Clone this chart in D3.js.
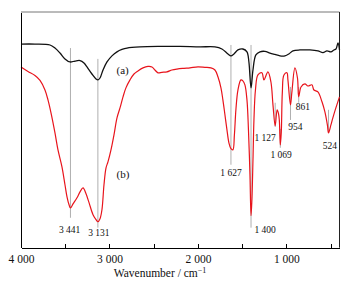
<!DOCTYPE html>
<head>
  <meta charset="utf-8">
  <script src="https://d3js.org/d3.v7.min.js"></script>
  <style>
    body { margin: 0; background: #fff; }
    .axis path, .axis line { stroke: #000; shape-rendering: crispEdges; }
    .axis text { font-family: "Liberation Serif", serif; font-size: 11.5px; fill: #111; }
    .peak { stroke: #9a9a9a; stroke-width: 0.8; }
    .plabel { font-family: "Liberation Serif", serif; font-size: 9.5px; fill: #111; text-anchor: middle; }
    .tag { font-family: "Liberation Serif", serif; font-size: 11px; fill: #111; }
  </style>
</head>
<body>
<div id="chart"></div>
<script>
// spectrum (a): wavenumber / transmittance (arb. %)
var waveA = [4000, 3842, 3672, 3616, 3559, 3503, 3446, 3390, 3333, 3288, 3254, 3198, 3152, 3130, 3107, 3073, 3028, 2972, 2915, 2859, 2802, 2655, 2429, 2203, 1977, 1808, 1729, 1661, 1627, 1593, 1548, 1492, 1446, 1424, 1400, 1378, 1345, 1299, 1243, 1186, 1130, 1073, 1017, 972, 926, 847, 734, 644, 587, 542, 497, 463, 440, 417, 400];
var transA = [86.4, 86.4, 86.0, 84.7, 82.6, 80.1, 78.8, 79.2, 79.4, 78.4, 76.7, 73.7, 71.6, 71.2, 72.0, 75.4, 78.8, 81.4, 83.1, 84.1, 84.7, 85.2, 85.4, 85.4, 85.2, 85.2, 84.3, 82.2, 81.4, 82.2, 83.9, 84.3, 83.1, 78.8, 67.8, 75.4, 81.8, 83.1, 83.3, 82.6, 82.0, 81.4, 81.4, 82.2, 83.5, 83.9, 83.9, 83.5, 82.8, 83.5, 83.1, 83.9, 84.3, 86.9, 83.9];

// spectrum (b)
var waveB = [4000, 3921, 3842, 3785, 3729, 3695, 3661, 3616, 3582, 3537, 3503, 3480, 3457, 3441, 3412, 3367, 3333, 3299, 3265, 3231, 3186, 3152, 3131, 3107, 3085, 3062, 3039, 3017, 2983, 2949, 2915, 2881, 2847, 2814, 2768, 2723, 2678, 2621, 2565, 2520, 2486, 2452, 2407, 2350, 2294, 2237, 2158, 2090, 2000, 1921, 1853, 1808, 1774, 1740, 1718, 1695, 1672, 1650, 1627, 1605, 1588, 1571, 1548, 1514, 1492, 1469, 1446, 1429, 1412, 1400, 1390, 1378, 1367, 1350, 1322, 1277, 1254, 1209, 1175, 1152, 1127, 1105, 1090, 1080, 1069, 1058, 1046, 1028, 994, 983, 954, 938, 904, 875, 861, 835, 791, 757, 712, 689, 644, 598, 565, 537, 524, 497, 475, 441, 400];
var transB = [76.7, 74.8, 73.1, 71.0, 66.9, 62.7, 57.2, 48.7, 41.5, 34.3, 26.7, 21.6, 18.2, 16.9, 18.6, 21.2, 23.7, 25.4, 22.9, 19.1, 14.0, 11.9, 11.0, 12.3, 16.1, 26.7, 33.9, 36.4, 41.5, 47.9, 55.1, 59.3, 64.0, 67.8, 71.2, 73.7, 75.0, 76.3, 76.9, 76.7, 75.4, 74.2, 74.4, 74.6, 75.4, 75.8, 76.1, 76.3, 76.7, 76.5, 76.3, 75.4, 72.5, 67.8, 62.7, 56.4, 50.0, 44.5, 42.0, 41.5, 47.9, 58.5, 66.9, 71.2, 70.8, 69.1, 62.7, 50.0, 30.9, 13.6, 20.3, 37.3, 54.2, 66.9, 73.3, 74.2, 71.2, 74.6, 70.3, 60.6, 51.7, 58.5, 57.0, 54.0, 43.6, 49.0, 66.0, 73.3, 74.2, 71.2, 60.6, 66.1, 76.3, 72.0, 64.0, 68.2, 69.5, 68.6, 69.1, 66.9, 66.1, 61.9, 57.6, 52.1, 48.7, 52.1, 55.1, 59.3, 64.0];

// peak annotations
var peakWaves = [3441, 3131, 1627, 1400, 1127, 1069, 954, 861, 524];
var peakLabels = ["3 441", "3 131", "1 627", "1 400", "1 127", "1 069", "954", "861", "524"];
var peakTop = [84.7, 80.1, 86.0, 86.0, 61.5, 50.4, 68.2, 68.2, 58.5];
var peakBottom = [12.7, 8.5, 35.2, 8.5, 51.3, 42.4, 54.2, 61.5, 48.7];
var labelWave = [3450, 3120, 1627, 1240, 1240, 1060, 900, 815, 510];
var labelT = [7.5, 6.2, 32.0, 7.5, 46.6, 39.4, 51.3, 59.7, 43.2];

var tickMajor = [4000, 3000, 2000, 1000];
var tickMajorLabels = ["4 000", "3 000", "2 000", "1 000"];
var tickMinor = [3500, 2500, 1500, 500];

var W = 358, H = 289;
var margin = {top: 12, right: 18.5, bottom: 41.3, left: 21};

var svg = d3.select("#chart").append("svg")
    .attr("width", W)
    .attr("height", H);

var x = d3.scaleLinear().domain([4000, 400]).range([margin.left, W - margin.right]);
var y = d3.scaleLinear().domain([0, 100]).range([H - margin.bottom, margin.top]);

// frame: top grey, right dark
svg.append("line")
    .attr("x1", x(4000)).attr("x2", x(400))
    .attr("y1", y(100)).attr("y2", y(100))
    .attr("stroke", "#777").attr("stroke-width", 1);
svg.append("line")
    .attr("x1", x(400)).attr("x2", x(400))
    .attr("y1", y(100)).attr("y2", y(0))
    .attr("stroke", "#222").attr("stroke-width", 1);

// peak guide lines
svg.selectAll(".peak")
    .data(peakWaves)
  .enter().append("line")
    .attr("class", "peak")
    .attr("x1", function(d) { return x(d); })
    .attr("x2", function(d) { return x(d); })
    .attr("y1", function(d, i) { return y(peakTop[i]); })
    .attr("y2", function(d, i) { return y(peakBottom[i]); });

var line = d3.line()
    .x(function(d) { return x(d[0]); })
    .y(function(d) { return y(d[1]); })
    .curve(d3.curveCatmullRom.alpha(0.5));

svg.append("path")
    .datum(d3.zip(waveB, transB))
    .attr("fill", "none")
    .attr("stroke", "#e8141c")
    .attr("stroke-width", 1.2)
    .attr("stroke-linejoin", "round")
    .attr("d", line);

svg.append("path")
    .datum(d3.zip(waveA, transA))
    .attr("fill", "none")
    .attr("stroke", "#111")
    .attr("stroke-width", 1.3)
    .attr("stroke-linejoin", "round")
    .attr("d", line);

// peak labels
svg.selectAll(".plabel")
    .data(peakLabels)
  .enter().append("text")
    .attr("class", "plabel")
    .attr("x", function(d, i) { return x(labelWave[i]); })
    .attr("y", function(d, i) { return y(labelT[i]); })
    .attr("dy", "0.35em")
    .text(function(d) { return d; });

svg.append("text").attr("class", "tag")
    .attr("x", x(2920)).attr("y", y(75.2)).attr("dy", "0.35em").text("(a)");
svg.append("text").attr("class", "tag")
    .attr("x", x(2920)).attr("y", y(31.4)).attr("dy", "0.35em").text("(b)");

// axes
svg.append("g")
    .attr("class", "axis")
    .attr("transform", "translate(0," + y(0) + ")")
    .call(d3.axisBottom(x).tickValues(tickMinor).tickSizeInner(-3.5).tickSizeOuter(0).tickFormat(""));

svg.append("g")
    .attr("class", "axis")
    .attr("transform", "translate(0," + y(0) + ")")
    .call(d3.axisBottom(x).tickValues(tickMajor).tickSizeInner(-3.5).tickSizeOuter(0).tickPadding(7)
      .tickFormat(function(d, i) { return tickMajorLabels[i]; }));

svg.append("g")
    .attr("class", "axis")
    .attr("transform", "translate(" + x(4000) + ",0)")
    .call(d3.axisLeft(y).tickValues([]).tickSizeOuter(0));

svg.append("text")
    .attr("x", 160)
    .attr("y", 273)
    .attr("dy", "0.35em")
    .attr("text-anchor", "middle")
    .style("font-family", "Liberation Serif, serif")
    .style("font-size", "11.5px")
    .style("fill", "#111")
    .html("Wavenumber / cm<tspan dy='-4' font-size='8px'>−1</tspan>");
</script>
</body>
